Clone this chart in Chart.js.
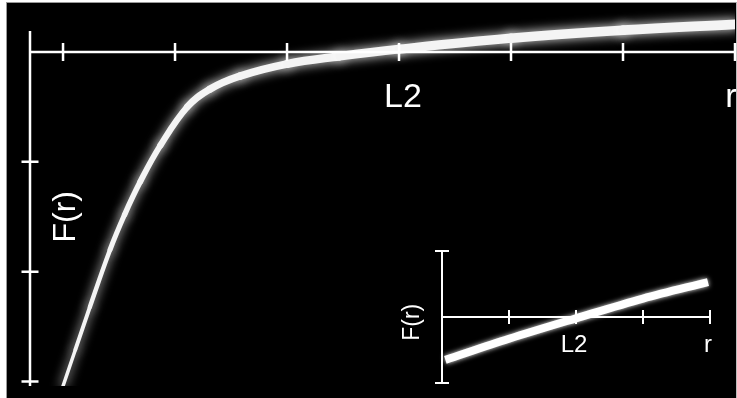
<!DOCTYPE html>
<html>
<head>
<meta charset="utf-8">
<script src="https://cdn.jsdelivr.net/npm/chart.js@4.4.1/dist/chart.umd.min.js"></script>
<style>
  html, body { margin: 0; padding: 0; background: #fff; }
  #stage { position: relative; width: 737px; height: 398px; overflow: hidden; }
  #board { position: absolute; left: 6px; top: 2px; width: 729px; height: 396px; background: #000; border-left: 1px solid #999; border-top: 1px solid #999; border-right: 1px solid #bbb; }
  #mainWrap { position: absolute; left: 0; top: 0; width: 737px; height: 398px; }
  #insetWrap { position: absolute; left: 400px; top: 240px; width: 330px; height: 155px; }
</style>
</head>
<body>
<div id="stage">
  <div id="board"></div>
  <div id="mainWrap"><canvas id="mainChart"></canvas></div>
  <div id="insetWrap"><canvas id="insetChart"></canvas></div>
</div>
<script>
// main curve F(r)
var mainR = [0, 0.11, 0.24, 0.42, 0.55, 0.69, 0.87, 1.11, 1.31, 1.58, 2.0, 2.47, 3.0, 4.0, 5.0, 6.0];
var mainF = [-3.04, -2.71, -2.32, -1.80, -1.48, -1.18, -0.85, -0.50, -0.34, -0.22, -0.11, -0.04, 0.025, 0.125, 0.197, 0.25];
var mainXTicks = [0, 1, 2, 3, 4, 5, 6];
var mainYTicks = [-1, -2, -3];
var mainLabelValues = [3, 6];
var mainLabelText = ['L2', 'r'];

// inset curve F(r)
var insetR = [0.05, 1, 2, 3, 3.97];
var insetF = [-0.65, -0.33, -0.02, 0.28, 0.53];
var insetXTicks = [1, 2, 3, 4];
var insetYTicks = [1, -1];
var insetLabelValues = [2, 4];
var insetLabelText = ['L2', 'r'];

var yTitle = 'F(r)';

// white axes with crossing ticks, drawn from the chart's own scales
var axisLines = {
   id: 'axisLines',
   afterDatasetsDraw(chart, args, o) {
      var ctx = chart.ctx, a = chart.chartArea;
      var sx = chart.scales.x, sy = chart.scales.y;
      var y0 = sy.getPixelForValue(0);
      ctx.save();
      ctx.strokeStyle = '#fff';
      ctx.lineWidth = o.lineWidth;
      ctx.beginPath();
      ctx.moveTo(a.left, y0); ctx.lineTo(a.right, y0);
      ctx.moveTo(a.left, a.top); ctx.lineTo(a.left, a.bottom);
      o.xTicks.forEach(v => {
         var px = sx.getPixelForValue(v);
         ctx.moveTo(px, y0 - o.tickX); ctx.lineTo(px, y0 + o.tickX);
      });
      o.yTicks.forEach(v => {
         var py = sy.getPixelForValue(v);
         ctx.moveTo(a.left - o.tickY, py); ctx.lineTo(a.left + o.tickY, py);
      });
      ctx.stroke();

      ctx.fillStyle = '#fff';
      ctx.textAlign = 'center';
      ctx.textBaseline = 'alphabetic';
      ctx.font = o.labelFont;
      o.labelValues.forEach((v, i) => {
         ctx.fillText(o.labelText[i], sx.getPixelForValue(v) + o.labelDx[i], y0 + o.labelDy);
      });

      ctx.translate(a.left + o.titleDx, sy.getPixelForValue(o.titleAt));
      ctx.rotate(-Math.PI / 2);
      ctx.font = o.titleFont;
      ctx.fillText(yTitle, 0, 0);
      ctx.restore();
   }
};

// soft white glow on the curve
var glow = {
   id: 'glow',
   beforeDatasetDraw(chart, args, o) {
      chart.ctx.save();
      chart.ctx.shadowColor = 'rgba(255,255,255,0.95)';
      chart.ctx.shadowBlur = o.blur;
   },
   afterDatasetDraw(chart) {
      chart.ctx.restore();
   }
};

function makeChart(id, rs, fs, scales, padding, curve, axisOpts) {
   return new Chart(document.getElementById(id), {
      type: 'line',
      data: {
         datasets: [{
            data: rs.map((r, i) => ({ x: r, y: fs[i] })),
            borderColor: curve.color,
            borderWidth: 6,
            borderCapStyle: curve.cap,
            borderJoinStyle: 'round',
            pointRadius: 0,
            tension: 0.4,
            cubicInterpolationMode: curve.mode,
            clip: curve.clip,
            segment: { borderWidth: curve.width }
         }]
      },
      options: {
         responsive: true,
         maintainAspectRatio: false,
         animation: false,
         events: [],
         layout: { autoPadding: false, padding: padding },
         scales: {
            x: { type: 'linear', display: false, min: scales.xMin, max: scales.xMax },
            y: { type: 'linear', display: false, min: scales.yMin, max: scales.yMax }
         },
         plugins: {
            legend: { display: false },
            tooltip: { enabled: false },
            glow: { blur: curve.blur },
            axisLines: axisOpts
         }
      },
      plugins: [glow, axisLines]
   });
}

makeChart('mainChart', mainR, mainF,
   { xMin: -0.295, xMax: 6, yMin: -3.04, yMax: 0.19 },
   { left: 30, right: 2, top: 31, bottom: 12 },
   {
      color: '#f4f4f4', cap: 'round', blur: 11, mode: 'default',
      clip: { left: 0, top: 30, right: 0, bottom: 0 },
      width: ctx => 3.5 + 6.5 * (1 - Math.exp(-ctx.p0.parsed.x / 1.5))
   },
   {
      lineWidth: 2.5, tickX: 9, tickY: 8.5,
      xTicks: mainXTicks, yTicks: mainYTicks,
      labelValues: mainLabelValues, labelText: mainLabelText,
      labelDx: [4, -4], labelDy: 55,
      labelFont: '34px "Liberation Sans", Arial, sans-serif',
      titleDx: 45, titleAt: -1.5,
      titleFont: '32px "Liberation Sans", Arial, sans-serif'
   });

makeChart('insetChart', insetR, insetF,
   { xMin: 0, xMax: 4, yMin: -1, yMax: 1 },
   { left: 42, right: 20, top: 11, bottom: 12 },
   {
      color: '#fff', cap: 'butt', blur: 5, mode: 'monotone',
      clip: false,
      width: () => 8
   },
   {
      lineWidth: 2, tickX: 7, tickY: 7,
      xTicks: insetXTicks, yTicks: insetYTicks,
      labelValues: insetLabelValues, labelText: insetLabelText,
      labelDx: [-2, -2], labelDy: 35,
      labelFont: '24px "Liberation Sans", Arial, sans-serif',
      titleDx: -23, titleAt: -0.08,
      titleFont: '23px "Liberation Sans", Arial, sans-serif'
   });
</script>
</body>
</html>
